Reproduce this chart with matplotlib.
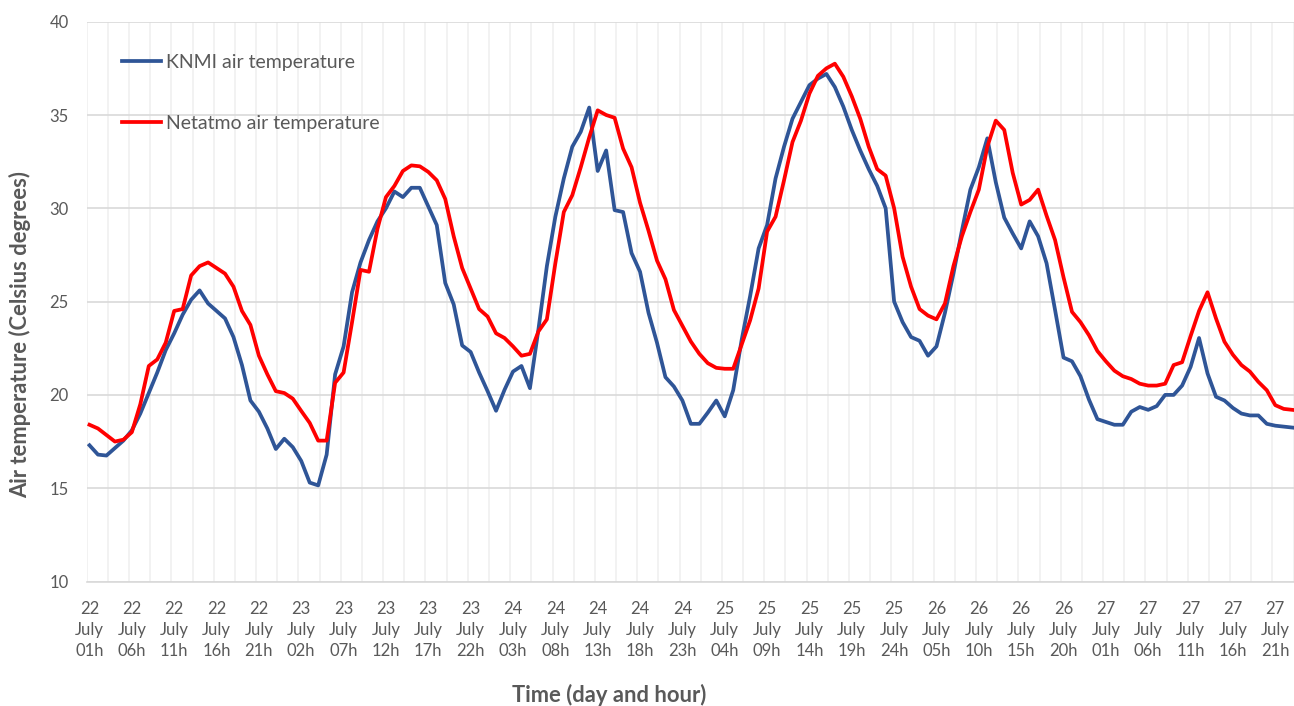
import numpy as np
import matplotlib.pyplot as plt

# hourly values, 22 July 01h ... 27 July 24h
knmi = [17.3, 16.8, 16.75, 17.15, 17.55, 18.1, 19.0, 20.1, 21.2, 22.4, 23.3, 24.3,
        25.1, 25.6, 24.9, 24.5, 24.1, 23.1, 21.6, 19.7, 19.1, 18.2, 17.1, 17.65,
        17.2, 16.46, 15.3, 15.15, 16.8, 21.1, 22.6, 25.5, 27.1, 28.3, 29.3, 30.0,
        30.9, 30.6, 31.1, 31.1, 30.1, 29.1, 26.0, 24.85, 22.65, 22.3, 21.2, 20.2,
        19.15, 20.27, 21.25, 21.55, 20.36, 23.5, 26.9, 29.55, 31.6, 33.3, 34.1, 35.4,
        32.0, 33.1, 29.9, 29.8, 27.6, 26.6, 24.4, 22.8, 20.95, 20.45, 19.7, 18.45,
        18.45, 19.05, 19.7, 18.85, 20.25, 22.95, 25.3, 27.85, 29.1, 31.6, 33.3, 34.8,
        35.7, 36.6, 36.95, 37.2, 36.5, 35.45, 34.2, 33.1, 32.1, 31.2, 30.0, 25.0,
        23.9, 23.1, 22.9, 22.1, 22.6, 24.4, 26.5, 28.8, 31.0, 32.2, 33.75, 31.4,
        29.5, 28.65, 27.85, 29.3, 28.5, 27.05, 24.55, 22.0, 21.8, 21.0, 19.75, 18.7,
        18.55, 18.4, 18.4, 19.1, 19.35, 19.2, 19.4, 20.0, 20.0, 20.5, 21.5, 23.05,
        21.15, 19.9, 19.7, 19.3, 19.0, 18.9, 18.9, 18.45, 18.35, 18.3, 18.25, 18.2]

netatmo = [18.4, 18.2, 17.85, 17.5, 17.6, 18.0, 19.5, 21.55, 21.9, 22.8, 24.5, 24.6,
           26.4, 26.9, 27.1, 26.8, 26.5, 25.8, 24.5, 23.75, 22.1, 21.1, 20.2, 20.1,
           19.8, 19.14, 18.5, 17.55, 17.55, 20.65, 21.2, 23.9, 26.7, 26.6, 28.9, 30.6,
           31.2, 32.0, 32.3, 32.25, 31.95, 31.5, 30.5, 28.5, 26.8, 25.7, 24.6, 24.2,
           23.3, 23.05, 22.6, 22.1, 22.2, 23.4, 24.05, 27.05, 29.8, 30.7, 32.2, 33.8,
           35.25, 35.0, 34.85, 33.2, 32.2, 30.3, 28.8, 27.2, 26.2, 24.55, 23.7, 22.86,
           22.2, 21.7, 21.45, 21.4, 21.4, 22.7, 24.0, 25.7, 28.75, 29.55, 31.5, 33.55,
           34.7, 36.15, 37.1, 37.5, 37.75, 37.05, 36.0, 34.8, 33.3, 32.1, 31.75, 30.0,
           27.4, 25.8, 24.6, 24.25, 24.05, 24.9, 26.9, 28.5, 29.8, 31.0, 33.3, 34.7,
           34.2, 31.9, 30.2, 30.45, 31.0, 29.6, 28.3, 26.3, 24.45, 23.9, 23.2, 22.35,
           21.8, 21.3, 21.0, 20.85, 20.6, 20.5, 20.5, 20.6, 21.6, 21.75, 23.15, 24.5,
           25.5, 24.1, 22.85, 22.15, 21.6, 21.25, 20.7, 20.25, 19.45, 19.25, 19.2, 19.15]

days = [22, 23, 24, 25, 26, 27]
hours = ["%02dh" % h for h in range(1, 25)]
time_labels = [f"{d}\nJuly\n{h}" for d in days for h in hours]

plt.rcParams['font.family'] = ['Lato', 'DejaVu Sans']
grey = '#595959'

fig = plt.figure(figsize=(12.94, 7.06), dpi=100)
ax = fig.add_axes([86.7 / 1294, 1 - 581.5 / 706, (1294 - 86.7) / 1294, (581.5 - 21.7) / 706])

x = np.arange(len(knmi))
ax.plot(x, knmi, color='#2F5597', lw=2.7, label='KNMI air temperature', zorder=3)
ax.plot(x, netatmo, color='#FF0000', lw=2.7, label='Netatmo air temperature', zorder=3)

ax.set_xlim(-0.33, 142.21)
ax.set_ylim(10, 40)
ax.set_yticks(range(10, 41, 5))
ax.set_xticks(x[::5])
ax.set_xticklabels(time_labels[::5], linespacing=1.4)
ax.set_xticks(np.arange(-0.33, 143, 2.5), minor=True)

ax.grid(axis='y', color='#d9d9d9', lw=1.2)
ax.grid(axis='x', which='minor', color='#f0f0f0', lw=1.2)
ax.tick_params(which='both', length=0)
ax.tick_params(axis='y', pad=13, labelsize=12, labelcolor=grey)
ax.tick_params(axis='x', pad=14, labelsize=12, labelcolor=grey)
for s in ['top', 'right', 'left']:
    ax.spines[s].set_visible(False)
ax.spines['bottom'].set_color('#d9d9d9')
ax.spines['bottom'].set_linewidth(1.2)

ax.legend(loc='upper left', bbox_to_anchor=(0.021, 0.96), frameon=False, fontsize=14,
          handlelength=2.0, handletextpad=0.25, labelspacing=2.25, borderpad=0,
          labelcolor=grey)

fig.text(20 / 1294, 1 - 334 / 706, 'Air temperature (Celsius degrees)', rotation=90,
         ha='center', va='center', fontsize=15.8, fontweight='bold', color=grey)
fig.text(609 / 1294, 1 - 695 / 706, 'Time (day and hour)', ha='center', va='center',
         fontsize=15.8, fontweight='bold', color=grey)

fig.savefig('out.png', dpi=100)
